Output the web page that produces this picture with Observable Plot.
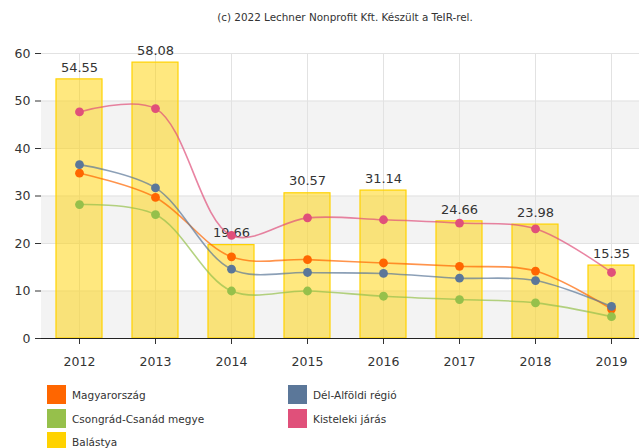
<!DOCTYPE html>
<html><head><meta charset="utf-8">
<script src="https://cdn.jsdelivr.net/npm/d3@7"></script>
<script src="https://cdn.jsdelivr.net/npm/@observablehq/plot@0.6"></script>
<style>
body{margin:0;background:#fff;font-family:"DejaVu Sans",Verdana,sans-serif;width:639px;height:448px;overflow:hidden;position:relative}
#title{height:35px;position:relative;font-size:10.4px;color:#333}
#title span{position:absolute;left:345px;top:11px;transform:translateX(-50%);white-space:nowrap}
#chart svg{display:block;overflow:visible}
.lg{position:absolute;display:flex;align-items:center;font-size:10.5px;color:#333;height:19px}
.lg i{display:inline-block;width:19px;height:19px;margin-right:6px}
</style></head><body>
<div id="title"><span>(c) 2022 Lechner Nonprofit Kft. Készült a TeIR-rel.</span></div>
<div id="chart"></div>
<div id="legend"></div>
<script>
const years = ["2012","2013","2014","2015","2016","2017","2018","2019"];
const balastya = [54.55, 58.08, 19.66, 30.57, 31.14, 24.66, 23.98, 15.35];
const magyarorszag = [34.8, 29.7, 17.2, 16.6, 15.9, 15.2, 14.2, 6.2];
const delAlfold = [36.6, 31.7, 14.6, 13.9, 13.7, 12.7, 12.2, 6.75];
const csongrad = [28.2, 26.1, 10.0, 10.0, 8.9, 8.2, 7.5, 4.6];
const kisteleki = [47.7, 48.4, 21.7, 25.4, 25.0, 24.3, 23.1, 13.9];
const seriesNames = ["Magyarország", "Dél-Alföldi régió", "Csongrád-Csanád megye", "Kisteleki járás", "Balástya"];
const colors = ["#FF6600", "#5B7799", "#96C04B", "#E0507A", "#FFD200"];
const yTicks = [0, 10, 20, 30, 40, 50, 60];

const lineSeries = [magyarorszag, delAlfold, csongrad, kisteleki];
const lineData = lineSeries.flatMap((vals, s) => vals.map((v, i) => ({year: years[i], value: v, series: seriesNames[s]})));
const barData = years.map((y, i) => ({year: y, value: balastya[i]}));
const bands = yTicks.slice(0, -1).filter((t, i) => i % 2 === 0).map(t => ({y1: t, y2: yTicks[yTicks.indexOf(t) + 1]}));

const plot = Plot.plot({
  width: 639,
  height: 345,
  marginTop: 18,
  marginBottom: 42,
  marginLeft: 41,
  marginRight: 0,
  style: {fontFamily: "DejaVu Sans, Verdana, sans-serif", fontSize: "12.5px", color: "#333", background: "#fff"},
  x: {domain: years, range: [40, 650.4], paddingInner: 0.4, paddingOuter: 0.2, label: null},
  y: {domain: [0, 60], ticks: yTicks, label: null},
  color: {domain: seriesNames, range: colors},
  marks: [
    Plot.rectY(bands, {y1: "y1", y2: "y2", fill: "#f3f3f3"}),
    Plot.gridY(yTicks, {stroke: "#e2e2e2", strokeOpacity: 1}),
    Plot.gridX(years, {stroke: "#e2e2e2", strokeOpacity: 1}),
    Plot.barY(barData, {x: "year", y: "value", fill: "#FFD200", fillOpacity: 0.5, stroke: "#FFD200", strokeWidth: 1.2}),
    Plot.text(barData, {x: "year", y: "value", text: d => d.value.toFixed(2), dy: -12, fontSize: 13, fill: "#333"}),
    Plot.line(lineData, {x: "year", y: "value", stroke: "series", z: "series", curve: "catmull-rom", strokeWidth: 1.6, strokeOpacity: 0.7}),
    Plot.dot(lineData, {x: "year", y: "value", fill: "series", r: 4.4}),
    Plot.axisY({ticks: yTicks, tickSize: 6, tickPadding: 5, stroke: "#333", fill: "#333", fontSize: 12.5}),
    Plot.ruleX([0], {x: () => null, frameAnchor: "left", stroke: "#222"}),
    Plot.axisX({tickSize: 6, tickPadding: 13, stroke: "#333", fill: "#333", fontSize: 12.5}),
    Plot.ruleY([0], {stroke: "#222"})
  ]
});
document.getElementById("chart").appendChild(plot);

const legendItems = [
  {name: seriesNames[0], color: colors[0], x: 47, y: 385},
  {name: seriesNames[1], color: colors[1], x: 288, y: 385},
  {name: seriesNames[2], color: colors[2], x: 47, y: 409},
  {name: seriesNames[3], color: colors[3], x: 288, y: 409},
  {name: seriesNames[4], color: colors[4], x: 47, y: 432}
];
const lg = document.getElementById("legend");
for (const it of legendItems) {
  const d = document.createElement("div");
  d.className = "lg";
  d.style.left = it.x + "px";
  d.style.top = it.y + "px";
  d.innerHTML = `<i style="background:${it.color}"></i><span></span>`;
  d.querySelector("span").textContent = it.name;
  lg.appendChild(d);
}
</script>
</body></html>
